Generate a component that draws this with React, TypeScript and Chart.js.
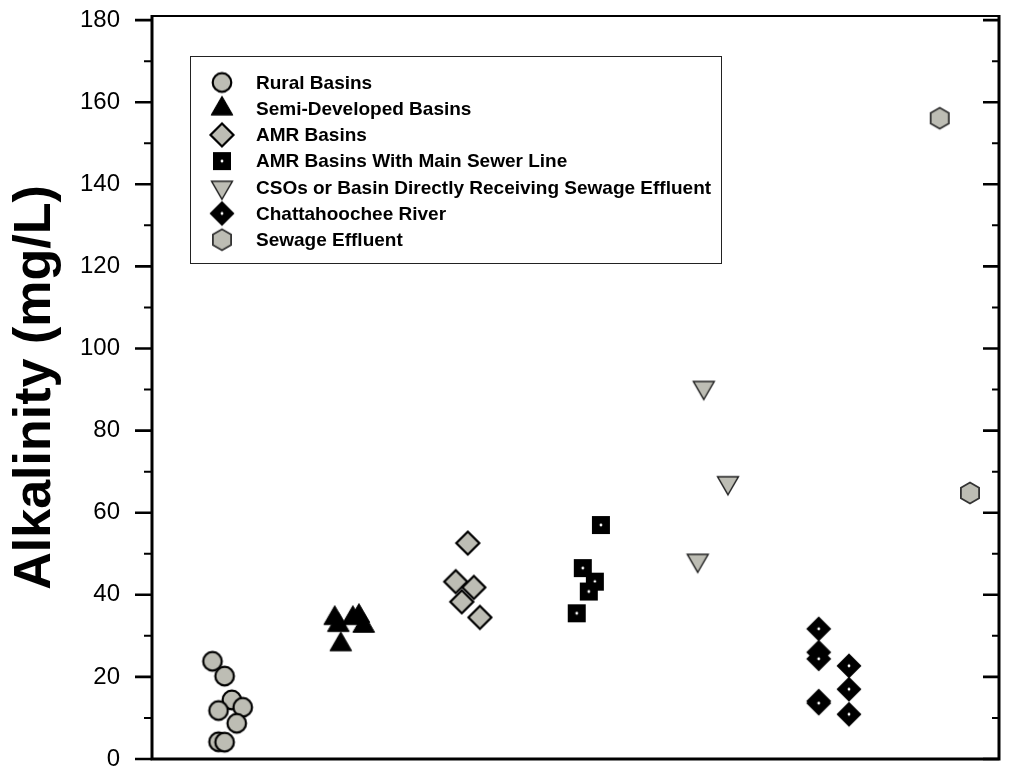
import React, { useEffect, useRef } from "react";
import { Chart, registerables } from "chart.js";

Chart.register(...registerables);

// ---------------- data ----------------
const seriesNames = [
  "Rural Basins",
  "Semi-Developed Basins",
  "AMR Basins",
  "AMR Basins With Main Sewer Line",
  "CSOs or Basin Directly Receiving Sewage Effluent",
  "Chattahoochee River",
  "Sewage Effluent",
];

const ruralX = [0.5, 0.6, 0.66, 0.55, 0.75, 0.7, 0.55, 0.6];
const ruralY = [23.8, 20.2, 14.4, 11.8, 12.6, 8.7, 4.2, 4.1];

const semiX = [1.51, 1.54, 1.66, 1.71, 1.75, 1.56];
const semiY = [34.3, 32.6, 34.3, 34.8, 32.4, 27.9];

const amrX = [2.61, 2.51, 2.66, 2.56, 2.71];
const amrY = [52.6, 43.2, 41.8, 38.3, 34.5];

const sewerX = [3.71, 3.56, 3.66, 3.61, 3.51];
const sewerY = [57.0, 46.5, 43.2, 40.8, 35.5];

const csoX = [4.56, 4.76, 4.51];
const csoY = [90.5, 67.3, 48.4];

const chattX = [5.51, 5.51, 5.51, 5.51, 5.51, 5.76, 5.76, 5.76];
const chattY = [31.7, 26.0, 24.4, 14.1, 13.6, 22.7, 17.0, 10.9];

const effluentX = [6.51, 6.76];
const effluentY = [156.1, 64.8];

const yTickLabels = [0, 20, 40, 60, 80, 100, 120, 140, 160, 180];
const yMinorTicks = [10, 30, 50, 70, 90, 110, 130, 150, 170];
const yTitle = "Alkalinity (mg/L)";

// ---------------- styles ----------------
const FONT = '"Liberation Sans", Arial, Helvetica, sans-serif';
const GREY = "#bdbdb4";

type Kind = "circle" | "triUp" | "diamondGrey" | "squareDot" | "triDown" | "diamondDot" | "hexagon";
const kinds: Kind[] = ["circle", "triUp", "diamondGrey", "squareDot", "triDown", "diamondDot", "hexagon"];

function makeMarker(kind: Kind): HTMLCanvasElement {
  const S = 32;
  const c = document.createElement("canvas");
  c.width = S;
  c.height = S;
  const g = c.getContext("2d")!;
  const cx = S / 2;
  const cy = S / 2;
  g.lineJoin = "miter";
  const poly = (pts: [number, number][]) => {
    g.beginPath();
    pts.forEach(([x, y], i) => (i ? g.lineTo(x, y) : g.moveTo(x, y)));
    g.closePath();
  };
  const dot = () => {
    g.beginPath();
    g.fillStyle = "#fff";
    g.arc(cx, cy, 1.4, 0, Math.PI * 2);
    g.fill();
  };
  if (kind === "circle") {
    g.beginPath();
    g.arc(cx, cy, 9.3, 0, Math.PI * 2);
    g.fillStyle = GREY;
    g.fill();
    g.lineWidth = 2.2;
    g.strokeStyle = "#000";
    g.stroke();
  } else if (kind === "triUp") {
    const r = 12.5;
    poly([
      [cx, cy - r],
      [cx + r * 0.866, cy + r / 2],
      [cx - r * 0.866, cy + r / 2],
    ]);
    g.fillStyle = "#000";
    g.fill();
    g.lineWidth = 1;
    g.strokeStyle = "#000";
    g.stroke();
  } else if (kind === "diamondGrey") {
    const r = 11.5;
    poly([
      [cx, cy - r],
      [cx + r, cy],
      [cx, cy + r],
      [cx - r, cy],
    ]);
    g.fillStyle = GREY;
    g.fill();
    g.lineWidth = 2.2;
    g.strokeStyle = "#000";
    g.stroke();
  } else if (kind === "squareDot") {
    const h = 9;
    g.fillStyle = "#000";
    g.fillRect(cx - h, cy - h, 2 * h, 2 * h);
    dot();
  } else if (kind === "triDown") {
    const r = 12;
    poly([
      [cx, cy + r],
      [cx + r * 0.866, cy - r / 2],
      [cx - r * 0.866, cy - r / 2],
    ]);
    g.fillStyle = GREY;
    g.fill();
    g.lineWidth = 1.5;
    g.strokeStyle = "#222";
    g.stroke();
  } else if (kind === "diamondDot") {
    const r = 12.5;
    poly([
      [cx, cy - r],
      [cx + r, cy],
      [cx, cy + r],
      [cx - r, cy],
    ]);
    g.fillStyle = "#000";
    g.fill();
    dot();
  } else {
    const r = 10.5;
    const pts: [number, number][] = [];
    for (let i = 0; i < 6; i++) {
      const a = -Math.PI / 2 + (i * Math.PI) / 3;
      pts.push([cx + r * Math.cos(a), cy + r * Math.sin(a)]);
    }
    poly(pts);
    g.fillStyle = GREY;
    g.fill();
    g.lineWidth = 1.8;
    g.strokeStyle = "#333";
    g.stroke();
  }
  return c;
}

const framePlugin = {
  id: "frame",
  afterDatasetsDraw(chart: any) {
    const { ctx, chartArea } = chart;
    const { left, right, top, bottom } = chartArea;
    const y = chart.scales.y;
    ctx.save();
    ctx.strokeStyle = "#000";
    const drawTick = (v: number, major: boolean) => {
      const py = y.getPixelForValue(v);
      ctx.lineWidth = major ? 2.6 : 2;
      ctx.beginPath();
      ctx.moveTo(left - (major ? 17 : 8), py);
      ctx.lineTo(left, py);
      ctx.moveTo(right, py);
      ctx.lineTo(right - (major ? 16 : 7), py);
      ctx.stroke();
    };
    yTickLabels.forEach((v) => drawTick(v, true));
    yMinorTicks.forEach((v) => drawTick(v, false));
    ctx.lineWidth = 3;
    ctx.beginPath();
    ctx.moveTo(left, top - 1);
    ctx.lineTo(left, bottom);
    ctx.lineTo(right, bottom);
    ctx.lineTo(right, top - 1);
    ctx.stroke();
    ctx.lineWidth = 2;
    ctx.beginPath();
    ctx.moveTo(left, top);
    ctx.lineTo(right, top);
    ctx.stroke();
    ctx.restore();
  },
};

const legendPlugin = {
  id: "boxLegend",
  afterDraw(chart: any) {
    const { ctx } = chart;
    const bx = 190.5,
      by = 56.5,
      bw = 531,
      bh = 207;
    ctx.save();
    ctx.fillStyle = "#fff";
    ctx.fillRect(bx, by, bw, bh);
    ctx.strokeStyle = "#222";
    ctx.lineWidth = 1;
    ctx.strokeRect(bx, by, bw, bh);
    ctx.font = `bold 19px ${FONT}`;
    ctx.fillStyle = "#000";
    ctx.textBaseline = "middle";
    ctx.textAlign = "left";
    chart.data.datasets.forEach((ds: any, i: number) => {
      const ry = 82.5 + i * 26.2;
      const img = ds.pointStyle as HTMLCanvasElement;
      ctx.drawImage(img, 222 - img.width / 2, ry - img.height / 2);
      ctx.fillText(ds.label, 256, ry + 1);
    });
    ctx.restore();
  },
};

export default function App() {
  const ref = useRef<HTMLCanvasElement | null>(null);

  useEffect(() => {
    if (!ref.current) return;
    const xs = [ruralX, semiX, amrX, sewerX, csoX, chattX, effluentX];
    const ys = [ruralY, semiY, amrY, sewerY, csoY, chattY, effluentY];
    const datasets = seriesNames.map((name, i) => ({
      label: name,
      data: xs[i].map((x, j) => ({ x, y: ys[i][j] })),
      pointStyle: makeMarker(kinds[i]),
      pointRadius: 10,
      showLine: false,
      order: 6 - i,
    }));
    const chart = new Chart(ref.current, {
      type: "scatter",
      data: { datasets },
      options: {
        animation: false,
        responsive: false,
        layout: { padding: { left: 0, top: 16, right: 7, bottom: 11 } },
        plugins: { legend: { display: false }, tooltip: { enabled: false } },
        scales: {
          x: { type: "linear", display: false, min: 0, max: 7 },
          y: {
            type: "linear",
            min: 0,
            max: 181,
            afterBuildTicks: (s: any) => {
              s.ticks = yTickLabels.map((v) => ({ value: v }));
            },
            afterFit: (s: any) => {
              s.width = 152;
              s.paddingTop = 0;
              s.paddingBottom = 0;
            },
            grid: { display: false, drawTicks: false },
            border: { display: false },
            ticks: {
              padding: 32,
              color: "#000",
              font: { family: FONT, size: 24, lineHeight: 0.9 },
            },
            title: {
              display: true,
              text: yTitle,
              color: "#000",
              font: { family: FONT, size: 52, weight: "bold" },
              padding: { top: 4, bottom: 0 },
            },
          },
        },
      },
      plugins: [framePlugin, legendPlugin],
    } as any);
    return () => chart.destroy();
  }, []);

  return (
    <div style={{ position: "absolute", left: 0, top: 0, width: 1010, height: 770 }}>
      <canvas ref={ref} width={1010} height={770} style={{ display: "block" }} />
    </div>
  );
}
